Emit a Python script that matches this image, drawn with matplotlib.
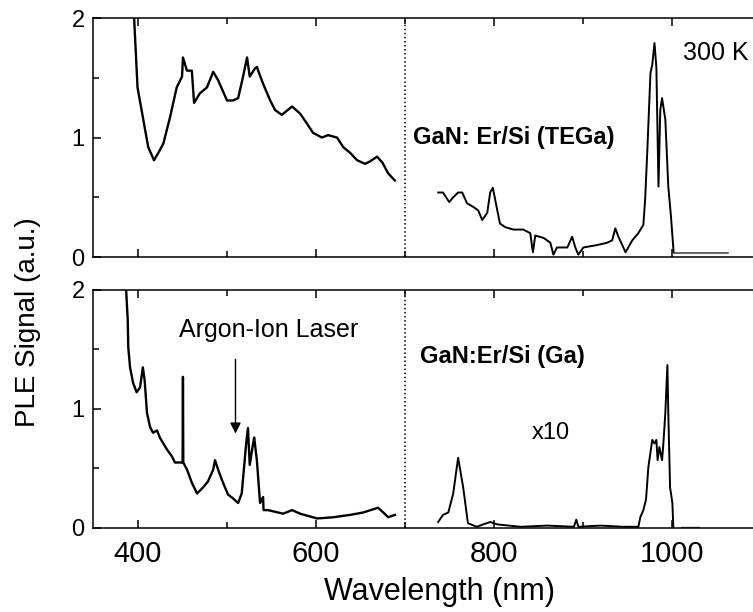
import matplotlib
matplotlib.use('Agg')
import matplotlib.pyplot as plt
from matplotlib.ticker import MultipleLocator

plt.rcParams['font.family'] = ['Liberation Sans', 'DejaVu Sans']

# top panel, GaN: Er/Si (TEGa)
top_vis_wl = [395.5, 400, 406, 412, 418.5, 424, 429, 436.5, 444, 450, 451, 455.5,
              461, 463.5, 470, 478, 485, 490.5, 500.5, 507, 513, 518.5, 523, 526,
              532, 534, 541, 549, 554.5, 562, 573.6, 582.6, 590, 597, 607, 614,
              624, 631, 639, 646.6, 655.6, 661, 669, 675, 681.5, 689]
top_vis_sig = [2.1, 1.42, 1.17, 0.92, 0.81, 0.88, 0.95, 1.17, 1.42, 1.51, 1.67, 1.56,
               1.56, 1.29, 1.37, 1.42, 1.55, 1.48, 1.31, 1.31, 1.33, 1.51, 1.67, 1.51,
               1.58, 1.59, 1.45, 1.31, 1.23, 1.19, 1.26, 1.20, 1.12, 1.04, 1.00, 1.02,
               1.00, 0.92, 0.87, 0.81, 0.78, 0.80, 0.84, 0.79, 0.70, 0.64]

top_ir_wl = [737.6, 743, 750, 754.5, 760, 764.6, 770, 777, 782.6, 787, 792.7, 796,
             799, 804, 807, 813, 822, 833, 841, 844, 846.6, 856, 863.5, 867, 871,
             882.6, 888, 891.6, 895, 900.6, 916, 927.5, 933, 936.5, 940, 948, 955.6,
             962.4, 968, 970, 972.5, 976, 978, 980.5, 982.6, 985, 987, 989, 992.7,
             996, 999, 1002]
top_ir_sig = [0.54, 0.54, 0.46, 0.50, 0.54, 0.54, 0.45, 0.42, 0.39, 0.31, 0.37, 0.54,
              0.58, 0.39, 0.28, 0.25, 0.23, 0.23, 0.20, 0.04, 0.18, 0.16, 0.12, 0.02,
              0.08, 0.08, 0.17, 0.08, 0.02, 0.08, 0.10, 0.12, 0.14, 0.24, 0.17, 0.04,
              0.14, 0.20, 0.27, 0.48, 0.90, 1.54, 1.61, 1.79, 1.59, 0.59, 1.23, 1.33,
              1.15, 0.59, 0.34, 0.04]

top_tail_wl = [1002, 1063.5]
top_tail_sig = [0.03, 0.03]

# bottom panel, GaN:Er/Si (Ga)
bot_vis_wl = [386.5, 389, 389.6, 391.6, 395, 399, 402.8, 406, 408, 410.6, 414, 417.4,
              421.9, 425, 433, 438.8, 442, 445.5, 450.6, 451, 451.4, 455.6, 461,
              466.8, 473.6, 479, 485, 487, 490.5, 496, 501.7, 507, 513, 517, 522,
              524, 526, 529.8, 531, 534, 537.6, 541, 541.5, 546.6, 563.5, 573.6,
              582.6, 601.7, 619.7, 638.8, 653.4, 670, 676, 681.5, 689]
bot_vis_sig = [2.1, 1.75, 1.52, 1.35, 1.22, 1.14, 1.18, 1.35, 1.24, 0.97, 0.85, 0.80,
               0.82, 0.76, 0.66, 0.60, 0.55, 0.55, 0.55, 1.27, 0.55, 0.49, 0.38,
               0.29, 0.34, 0.39, 0.49, 0.57, 0.49, 0.38, 0.28, 0.25, 0.21, 0.29, 0.71,
               0.84, 0.53, 0.71, 0.76, 0.57, 0.21, 0.26, 0.15, 0.15, 0.12, 0.15,
               0.12, 0.08, 0.09, 0.11, 0.13, 0.17, 0.13, 0.09, 0.11]

bot_ir_wl = [737.6, 743, 749, 754.5, 760, 765.7, 771, 781, 788, 796, 804, 830, 860,
             890, 892.7, 895, 920, 945, 962.4, 964.6, 968, 971, 973.6, 978, 980.5,
             982.6, 984, 986, 989, 990.4, 992.7, 995, 996, 998, 1000.6, 1001.7]
bot_ir_sig = [0.05, 0.11, 0.13, 0.29, 0.59, 0.34, 0.04, 0.01, 0.03, 0.05, 0.03, 0.01,
              0.02, 0.01, 0.07, 0.01, 0.02, 0.01, 0.01, 0.09, 0.15, 0.24, 0.51, 0.74,
              0.71, 0.74, 0.57, 0.68, 0.57, 0.70, 0.97, 1.37, 0.97, 0.34, 0.21, 0.0]

bot_tail_wl = [1010, 1031]
bot_tail_sig = [0.01, 0.01]

fig = plt.figure(figsize=(7.53, 6.12), dpi=100)
ax1 = fig.add_axes([0.1235, 0.580, 0.887, 0.3905])
ax2 = fig.add_axes([0.1235, 0.1373, 0.887, 0.3889])

for ax in (ax1, ax2):
    ax.set_xlim(350, 1100)
    ax.set_ylim(0, 2)
    ax.xaxis.set_major_locator(MultipleLocator(200))
    ax.xaxis.set_minor_locator(MultipleLocator(100))
    ax.yaxis.set_major_locator(MultipleLocator(1))
    ax.yaxis.set_minor_locator(MultipleLocator(0.5))
    ax.tick_params(which='both', direction='in', top=True, right=True, width=1.1)
    ax.tick_params(which='major', length=6)
    ax.tick_params(which='minor', length=4.5)
    ax.tick_params(axis='y', labelsize=17, pad=6)
    ax.tick_params(axis='x', labelsize=21, pad=9)
    for s in ax.spines.values():
        s.set_linewidth(1.1)
    ax.axvline(700, color='k', ls=':', lw=1.1)

ax1.tick_params(axis='x', labelbottom=False)

ax1.plot(top_vis_wl, top_vis_sig, color='k', lw=1.7)
ax1.plot(top_ir_wl, top_ir_sig, color='k', lw=1.4)
ax1.plot(top_tail_wl, top_tail_sig, color='0.3', lw=1.2)

ax2.plot(bot_vis_wl, bot_vis_sig, color='k', lw=1.7)
ax2.plot(bot_ir_wl, bot_ir_sig, color='k', lw=1.4)
ax2.plot(bot_tail_wl, bot_tail_sig, color='0.3', lw=1.0)

ax1.text(709, 1.0, 'GaN: Er/Si (TEGa)', fontsize=17, fontweight='bold', va='center')
ax1.text(1012, 1.71, '300 K', fontsize=18, va='center')

ax2.text(717, 1.44, 'GaN:Er/Si (Ga)', fontsize=17, fontweight='bold', va='center')
ax2.text(843, 0.8, 'x10', fontsize=17, va='center')
ax2.text(447, 1.66, 'Argon-Ion Laser', fontsize=18, va='center')
ax2.annotate('', xy=(510, 0.77), xytext=(510, 1.44),
             arrowprops=dict(arrowstyle='-|>', color='k', lw=1.0, mutation_scale=16))

fig.text(0.037, 0.474, 'PLE Signal (a.u.)', rotation=90, ha='center', va='center', fontsize=20)
fig.text(0.584, 0.033, 'Wavelength (nm)', ha='center', va='center', fontsize=22)

fig.savefig('out.png', dpi=100)
